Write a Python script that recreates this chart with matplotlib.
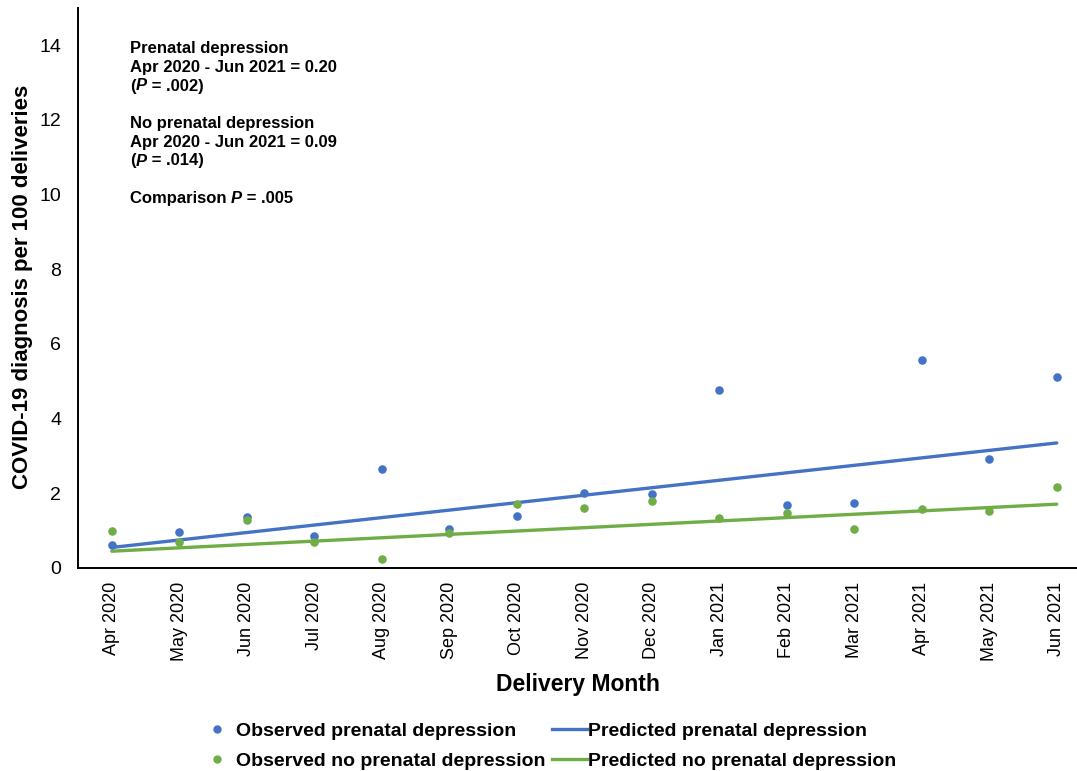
import matplotlib
matplotlib.use("Agg")
import matplotlib.pyplot as plt
from matplotlib.lines import Line2D
from matplotlib.offsetbox import TextArea, HPacker, VPacker, AnchoredOffsetbox

plt.rcParams['font.family'] = ['Liberation Sans', 'DejaVu Sans']

# data
months = ['Apr 2020', 'May 2020', 'Jun 2020', 'Jul 2020', 'Aug 2020', 'Sep 2020',
          'Oct 2020', 'Nov 2020', 'Dec 2020', 'Jan 2021', 'Feb 2021', 'Mar 2021',
          'Apr 2021', 'May 2021', 'Jun 2021']
obs_prenatal = [0.62, 0.97, 1.37, 0.87, 2.65, 1.04, 1.40, 2.02, 1.98, 4.76,
                1.69, 1.73, 5.58, 2.92, 5.11]
obs_no_prenatal = [0.98, 0.70, 1.29, 0.70, 0.24, 0.93, 1.72, 1.60, 1.79, 1.33,
                   1.47, 1.05, 1.58, 1.54, 2.18]
pred_prenatal = [0.55, 0.75, 0.95, 1.15, 1.35, 1.55, 1.75, 1.95, 2.15, 2.35,
                 2.55, 2.75, 2.95, 3.15, 3.35]
pred_no_prenatal = [0.45, 0.54, 0.63, 0.72, 0.81, 0.90, 0.99, 1.08, 1.17, 1.26,
                    1.35, 1.44, 1.53, 1.62, 1.71]
y_ticks = [0, 2, 4, 6, 8, 10, 12, 14]

blue = '#4472C4'
green = '#70AD47'

W, H = 1077, 771
fig = plt.figure(figsize=(W / 100, H / 100), dpi=100)
ax = fig.add_axes([78 / W, (H - 568) / H, 1 - 78 / W, 560 / H])

x = list(range(len(months)))
ax.plot(x, pred_prenatal, color=blue, lw=2.4, solid_capstyle='round', zorder=2)
ax.plot(x, pred_no_prenatal, color=green, lw=2.4, solid_capstyle='round', zorder=2)
ax.scatter(x, obs_prenatal, s=38, color=blue, zorder=3, linewidths=0)
ax.scatter(x, obs_no_prenatal, s=38, color=green, zorder=3, linewidths=0)

ax.set_xlim(-0.5, (W - 78) / 67.5 - 0.5)
ax.set_ylim(0, 15)
ax.set_yticks(y_ticks)
ax.set_xticks(x)
ax.set_xticklabels(months, rotation=90)
ax.tick_params(axis='x', length=0, labelsize=13, pad=10)
ax.tick_params(axis='y', length=0, labelsize=14, pad=12)
for s in ['top', 'right']:
    ax.spines[s].set_visible(False)
for s in ['left', 'bottom']:
    ax.spines[s].set_linewidth(1.4)

ax.set_xlabel('Delivery Month', fontsize=16.5, fontweight='bold', labelpad=8.5)
fig.text(23 / W, 1 - 287 / H, 'COVID-19 diagnosis per 100 deliveries', rotation=90,
         fontsize=16, fontweight='bold', ha='center', va='center')

# annotation block with italic P
bold = dict(fontsize=12, fontweight='bold')
ital = dict(fontsize=12, fontweight='bold', style='italic')


def line(*parts):
    return HPacker(children=[TextArea(t, textprops=ital if it else bold) for t, it in parts],
                   align='baseline', pad=0, sep=0)


rows = [
    line(('Prenatal depression', False)),
    line(('Apr 2020 - Jun 2021 = 0.20', False)),
    line(('(', False), ('P', True), (' = .002)', False)),
    line((' ', False)),
    line(('No prenatal depression', False)),
    line(('Apr 2020 - Jun 2021 = 0.09', False)),
    line(('(', False), ('P', True), (' = .014)', False)),
    line((' ', False)),
    line(('Comparison ', False), ('P', True), (' = .005', False)),
]
block = VPacker(children=rows, align='left', pad=0, sep=2.7)
anch = AnchoredOffsetbox(loc='upper left', child=block, pad=0, borderpad=0, frameon=False,
                         bbox_to_anchor=(130 / W, 1 - 41 / H), bbox_transform=fig.transFigure)
fig.add_artist(anch)

handles = [
    Line2D([], [], ls='none', marker='o', ms=5, color=blue),
    Line2D([], [], ls='none', marker='o', ms=5, color=green),
    Line2D([], [], color=blue, lw=2.4),
    Line2D([], [], color=green, lw=2.4),
]
labels = ['Observed prenatal depression', 'Observed no prenatal depression',
          'Predicted prenatal depression', 'Predicted no prenatal depression']
fig.legend(handles, labels, ncol=2, loc='center', bbox_to_anchor=(548 / W, 1 - 746 / H),
           frameon=False, prop=dict(size=14, weight='bold'), handlelength=1.8,
           handletextpad=0.1, columnspacing=0.3, labelspacing=0.65,
           borderpad=0, borderaxespad=0)

fig.savefig('out.png', dpi=100)
